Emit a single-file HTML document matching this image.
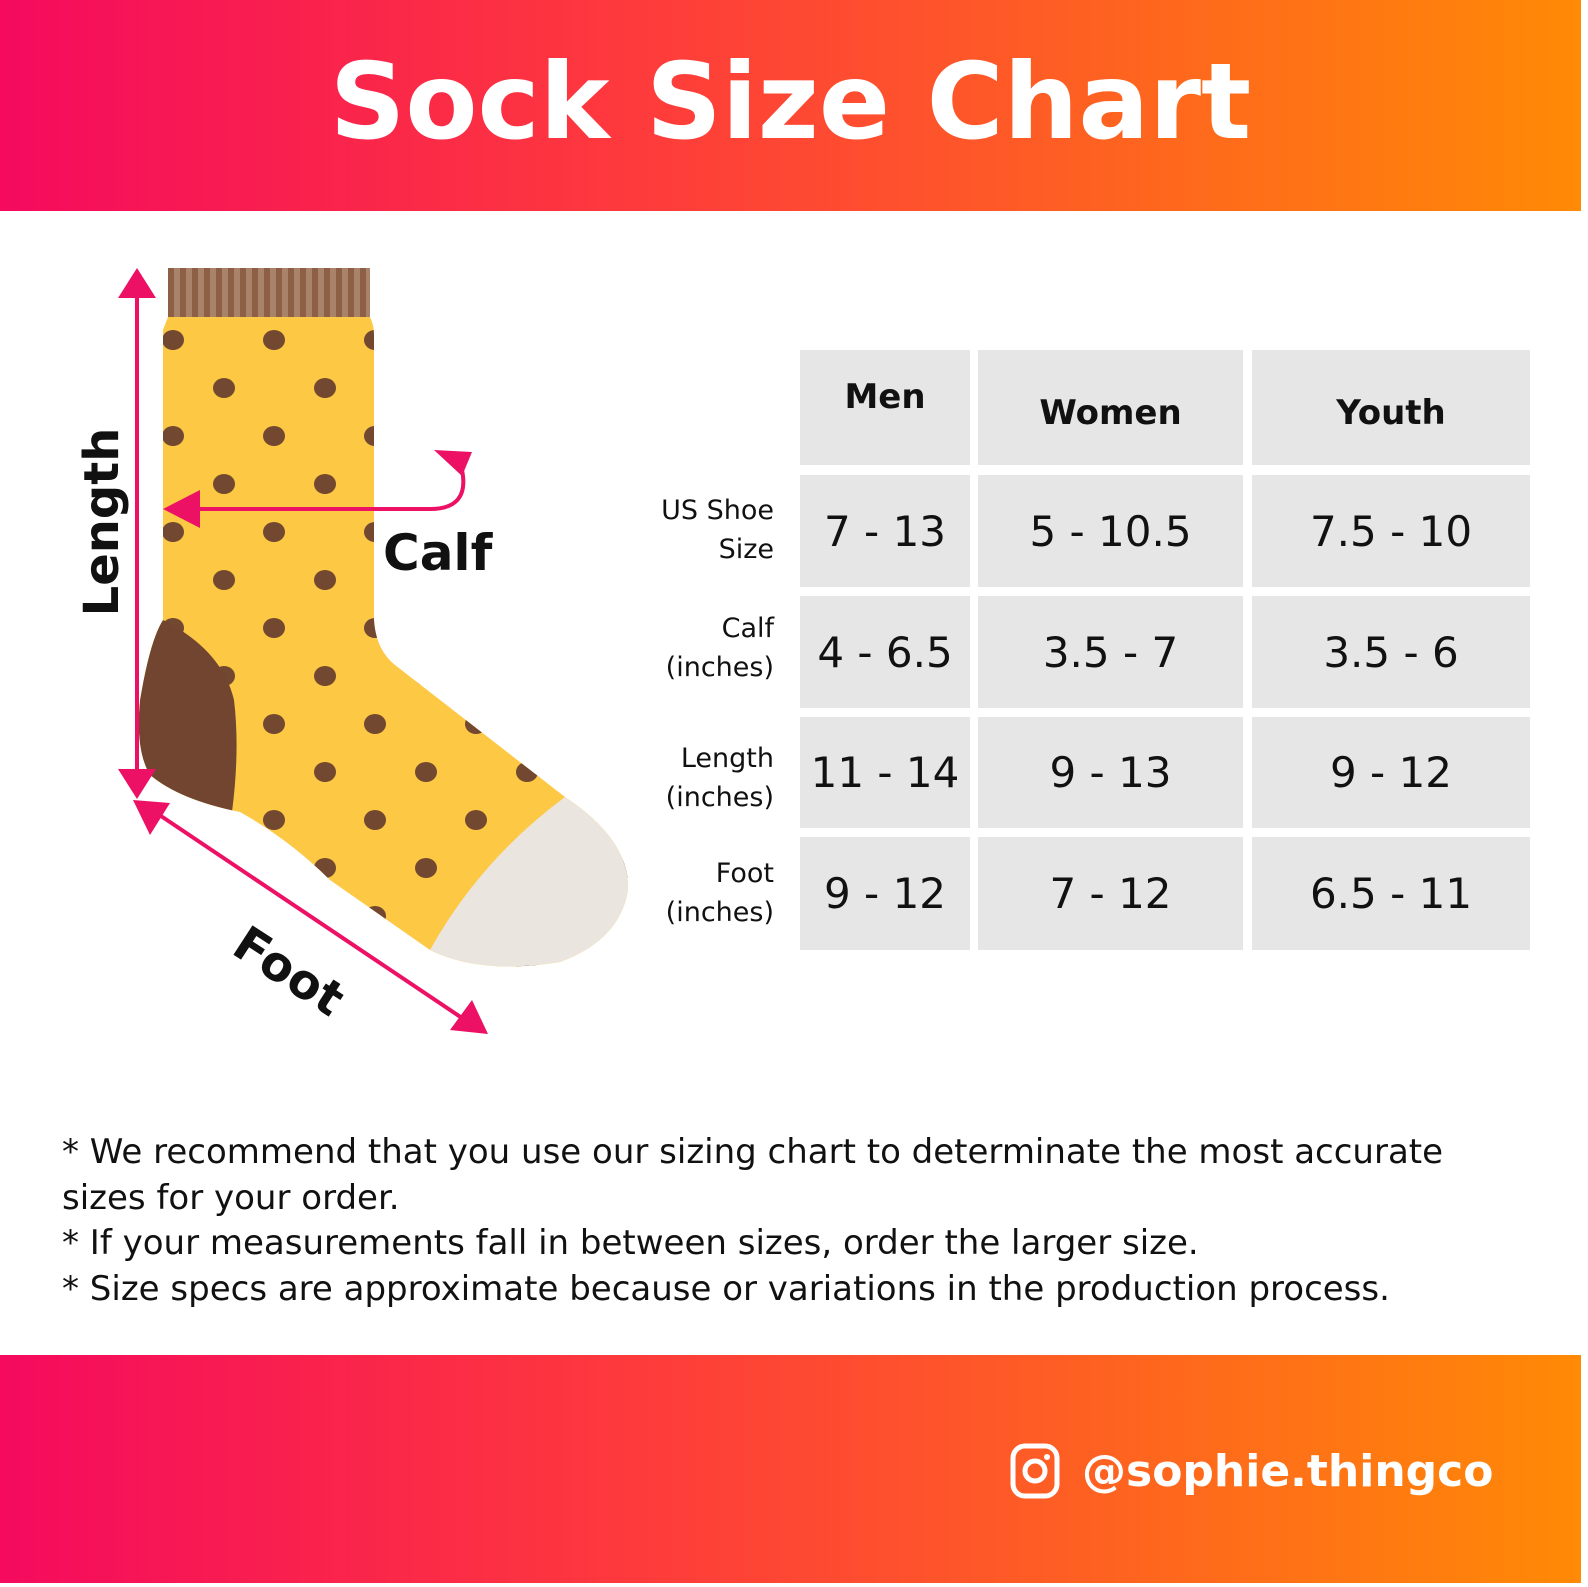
<!DOCTYPE html>
<html><head><meta charset="utf-8"><style>
body{margin:0;width:1588px;height:1587px;background:#fff;position:relative;overflow:hidden;font-family:"DejaVu Sans","Liberation Sans",sans-serif;}
.band{position:absolute;left:0;width:1581px;background:linear-gradient(90deg,#f50a5e,#fe3a3c 40%,#ff8a06);}
.title{position:absolute;left:0;width:1581px;top:32px;text-align:center;color:#fff;font-weight:bold;font-size:105px;line-height:140px;}
.cell{position:absolute;background:#e6e6e6;display:flex;align-items:center;justify-content:center;font-size:42px;color:#111;}
.hd{font-weight:bold;font-size:34px;}
.lbl{position:absolute;right:814px;text-align:right;font-size:27px;line-height:39px;color:#111;}
.notes{position:absolute;left:62px;top:1130px;font-size:34px;line-height:45.5px;color:#111;white-space:nowrap;}
</style></head><body>
<div class="band" style="top:0;height:211px"></div>
<div class="title">Sock Size Chart</div>

<svg width="700" height="1060" style="position:absolute;left:0;top:0" viewBox="0 0 700 1060">
<defs>
<clipPath id="sc"><path d="M168,317 L370,317 Q374,325 374,335 L374,620 Q376,650 395,665 L565,797 Q630,840 628,890 Q620,940 560,962 Q480,975 430,950 L330,880 Q290,840 240,812 Q180,800 150,775 Q135,750 140,700 Q150,640 163,620 L163,330 Z"/></clipPath>
<pattern id="st" x="168" width="12" height="60" patternUnits="userSpaceOnUse"><rect width="6" height="60" fill="#8d5f45"/><rect x="6" width="6" height="60" fill="#a9826a"/></pattern>
</defs>
<rect x="168" y="268" width="202" height="50" fill="url(#st)"/>
<g clip-path="url(#sc)">
<rect x="130" y="310" width="520" height="680" fill="#fdc844"/>
<g fill="#734830" id="dots"></g>
<path d="M163,620 Q222,650 234,700 Q240,750 232,812 Q180,800 150,775 Q135,750 140,700 Q150,640 163,620Z" fill="#714530"/>
<path d="M565,797 Q630,840 628,890 Q620,940 560,962 Q480,975 430,950 Q480,860 565,797Z" fill="#ebe5e0"/>
</g>
<g stroke="#ec1165" stroke-width="4" fill="none">
<line x1="137" y1="292" x2="137" y2="775"/>
<path d="M190,509 L430,509 Q470,509 462,470"/>
<line x1="155" y1="812" x2="465" y2="1020"/>
</g>
<g fill="#ec1165">
<polygon points="137,268 118,298 156,298"/>
<polygon points="137,799 118,769 156,769"/>
<polygon points="163,509 200,490 200,528"/>
<polygon points="462,476 434,450 472,452"/>
<polygon points="133,800 170,803 150,835"/>
<polygon points="488,1034 450,1030 472,1000"/>
</g>
<text x="0" y="0" transform="translate(118,522) rotate(-90)" text-anchor="middle" font-family="DejaVu Sans" font-weight="bold" font-size="48" fill="#111">Length</text>
<text x="383" y="570" font-family="DejaVu Sans" font-weight="bold" font-size="50" fill="#111">Calf</text>
<text x="0" y="0" transform="translate(280,985) rotate(33)" text-anchor="middle" font-family="DejaVu Sans" font-weight="bold" font-size="48" fill="#111">Foot</text>
</svg>
<script>
(function(){var g=document.getElementById('dots'),s='';for(var r=0;r<14;r++){var y=340+r*48;var x0=r%2?224:173;for(var x=x0;x<700;x+=101){s+='<ellipse cx="'+x+'" cy="'+y+'" rx="11" ry="10"/>';}}g.innerHTML=s;})();
</script>

<div class="cell hd" style="left:800px;top:350px;width:170px;height:115px;padding-bottom:22px;box-sizing:border-box">Men</div>
<div class="cell hd" style="left:978px;top:350px;width:265px;height:115px;padding-top:10px;box-sizing:border-box">Women</div>
<div class="cell hd" style="left:1252px;top:350px;width:278px;height:115px;padding-top:10px;box-sizing:border-box">Youth</div>

<div class="cell" style="left:800px;top:475px;width:170px;height:112px">7 - 13</div>
<div class="cell" style="left:978px;top:475px;width:265px;height:112px">5 - 10.5</div>
<div class="cell" style="left:1252px;top:475px;width:278px;height:112px">7.5 - 10</div>
<div class="cell" style="left:800px;top:596px;width:170px;height:112px">4 - 6.5</div>
<div class="cell" style="left:978px;top:596px;width:265px;height:112px">3.5 - 7</div>
<div class="cell" style="left:1252px;top:596px;width:278px;height:112px">3.5 - 6</div>
<div class="cell" style="left:800px;top:717px;width:170px;height:111px">11 - 14</div>
<div class="cell" style="left:978px;top:717px;width:265px;height:111px">9 - 13</div>
<div class="cell" style="left:1252px;top:717px;width:278px;height:111px">9 - 12</div>
<div class="cell" style="left:800px;top:837px;width:170px;height:113px">9 - 12</div>
<div class="cell" style="left:978px;top:837px;width:265px;height:113px">7 - 12</div>
<div class="cell" style="left:1252px;top:837px;width:278px;height:113px">6.5 - 11</div>

<div class="lbl" style="top:491px">US Shoe<br>Size</div>
<div class="lbl" style="top:609px">Calf<br>(inches)</div>
<div class="lbl" style="top:739px">Length<br>(inches)</div>
<div class="lbl" style="top:854px">Foot<br>(inches)</div>

<div class="notes">* We recommend that you use our sizing chart to determinate the most accurate<br>sizes for your order.<br>* If your measurements fall in between sizes, order the larger size.<br>* Size specs are approximate because or variations in the production process.</div>

<div class="band" style="top:1355px;height:228px"></div>
<svg width="60" height="60" style="position:absolute;left:1009px;top:1442px" viewBox="0 0 60 60">
<rect x="4" y="4" width="44" height="50" rx="12" fill="none" stroke="#fff" stroke-width="5"/>
<circle cx="26" cy="29" r="10" fill="none" stroke="#fff" stroke-width="5"/>
<circle cx="38" cy="15" r="3" fill="#fff"/>
</svg>
<div style="position:absolute;left:1082px;top:1442px;color:#fff;font-weight:bold;font-size:44px;line-height:60px">@sophie.thingco</div>
</body></html>
